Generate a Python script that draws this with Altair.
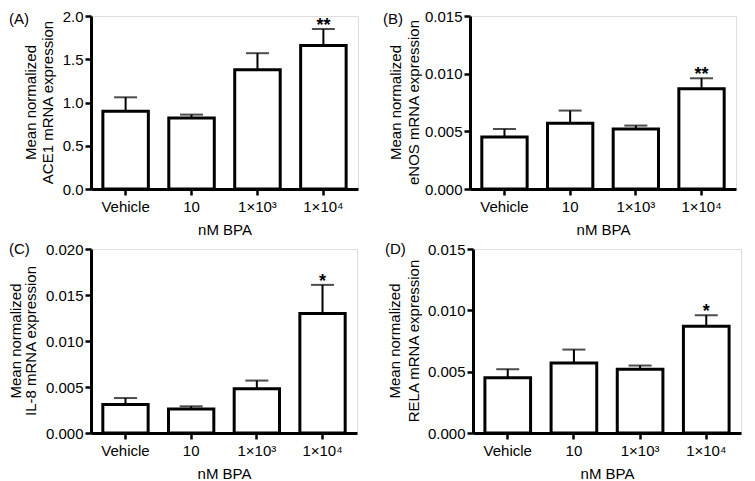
import altair as alt
import pandas as pd

groups = ["Vehicle", "10", "1×10³", "1×10⁴"]

ace1_mean = [0.90, 0.82, 1.38, 1.66]
ace1_top = [1.06, 0.86, 1.57, 1.85]
enos_mean = [0.0045, 0.0057, 0.0052, 0.0087]
enos_top = [0.0052, 0.0068, 0.0055, 0.0096]
il8_mean = [0.0031, 0.0026, 0.0048, 0.0130]
il8_top = [0.0038, 0.0029, 0.0057, 0.0161]
rela_mean = [0.0045, 0.0057, 0.0052, 0.0087]
rela_top = [0.0052, 0.0068, 0.0055, 0.0096]

stars_ace1 = ["", "", "", "**"]
stars_enos = ["", "", "", "**"]
stars_il8 = ["", "", "", "*"]
stars_rela = ["", "", "", "*"]

ticks_ace1 = [0.0, 0.5, 1.0, 1.5, 2.0]
ticks_015 = [0.0, 0.005, 0.010, 0.015]
ticks_020 = [0.0, 0.005, 0.010, 0.015, 0.020]

FONT = "Liberation Sans"
FS = 15


def panel(label, gene, mean, top, stars, ymax, ticks, fmt, width, height,
          label_dx, label_dy, t1_dx, t2_dx):
    df = pd.DataFrame({"group": groups, "mean": mean, "top": top, "star": stars})
    x = alt.X("group:N", sort=groups, title="nM BPA",
              scale=alt.Scale(paddingInner=0.31, paddingOuter=0.18),
              axis=alt.Axis(labelAngle=0, labelFontSize=FS, titleFontSize=FS,
                            labelFont=FONT, titleFont=FONT, titleFontWeight="normal",
                            domainColor="black", domainWidth=3, tickColor="black",
                            tickWidth=2.5, tickSize=6, labelPadding=4, titlePadding=8,
                            labelColor="black", titleColor="black"))
    yscale = alt.Scale(domain=[0, ymax], nice=False, zero=True)
    yaxis = alt.Axis(format=fmt, values=ticks, title=None,
                     labelFontSize=FS, labelFont=FONT, domainColor="black",
                     domainWidth=3, tickColor="black", tickWidth=2.5, tickSize=6,
                     labelPadding=2, grid=False, labelColor="black")
    base = alt.Chart(df)
    bars = base.mark_bar(fill="white", stroke="black", strokeWidth=3).encode(
        x=x, y=alt.Y("mean:Q", scale=yscale, axis=yaxis))
    err = base.mark_rule(color="black", strokeWidth=2).encode(
        x=alt.X("group:N", sort=groups), y="mean:Q", y2="top:Q")
    cap = base.mark_tick(color="black", thickness=2, size=23).encode(
        x=alt.X("group:N", sort=groups), y="top:Q")
    star = base.mark_text(fontSize=18, fontWeight="bold", font=FONT, dy=6,
                          baseline="bottom", color="black").encode(
        x=alt.X("group:N", sort=groups), y="top:Q", text="star:N")
    lab = alt.Chart(pd.DataFrame({"t": [label]})).mark_text(
        fontSize=FS, font=FONT, align="left", baseline="middle", color="black").encode(
        x=alt.value(label_dx), y=alt.value(label_dy), text="t:N")
    t1 = alt.Chart(pd.DataFrame({"t": ["Mean normalized"]})).mark_text(
        fontSize=FS, font=FONT, align="center", baseline="middle", angle=270,
        color="black").encode(x=alt.value(t1_dx), y=alt.value(height / 2), text="t:N")
    t2 = alt.Chart(pd.DataFrame({"t": [f"{gene} mRNA expression"]})).mark_text(
        fontSize=FS, font=FONT, align="center", baseline="middle", angle=270,
        color="black").encode(x=alt.value(t2_dx), y=alt.value(height / 2), text="t:N")
    return alt.layer(bars, err, cap, star, lab, t1, t2).properties(
        width=width, height=height)


pA = panel("(A)", "ACE1", ace1_mean, ace1_top, stars_ace1, 2.0, ticks_ace1, ".1f",
           267, 173, -82, 3, -60, -43)
pB = panel("(B)", "eNOS", enos_mean, enos_top, stars_enos, 0.015, ticks_015, ".3f",
           266, 173, -87, 3, -74, -56)
pC = panel("(C)", "IL-8", il8_mean, il8_top, stars_il8, 0.020, ticks_020, ".3f",
           266, 184, -82, 0, -75, -60)
pD = panel("(D)", "RELA", rela_mean, rela_top, stars_rela, 0.015, ticks_015, ".3f",
           268, 184, -88, 0, -78, -59)

chart = alt.vconcat(
    alt.hconcat(pA, pB, spacing=23),
    alt.hconcat(pC, pD, spacing=26),
    spacing=3,
).properties(padding=0).configure_view(stroke=None).configure(background="white")

chart.save("out.html", embed_options={"renderer": "svg", "actions": False})
